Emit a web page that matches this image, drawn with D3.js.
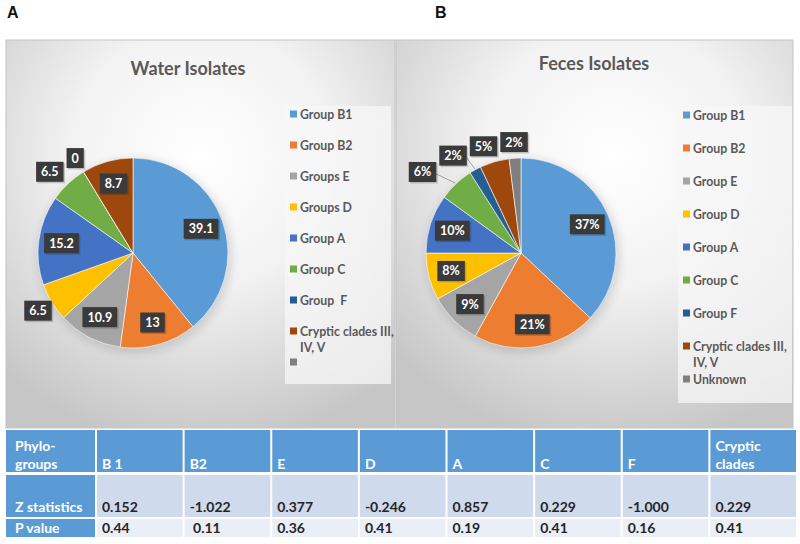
<!DOCTYPE html>
<html><head><meta charset="utf-8">
<script src="https://cdn.jsdelivr.net/npm/d3@7"></script>
<style>
html,body{margin:0;padding:0;background:#fff;}
svg{display:block;font-family:Lato,"Open Sans",sans-serif;}
</style></head>
<body><svg id="c" width="800" height="544"></svg>
<script>
// ---- data ----
const waterCategories = ["Group B1","Group B2","Groups E","Groups D","Group A","Group C","Group  F","Cryptic clades III,\nIV, V",""];
const waterValues = [39.1, 13, 10.9, 6.5, 15.2, 6.5, 0, 8.7];
const fecesCategories = ["Group B1","Group B2","Group E","Group D","Group A","Group C","Group F","Cryptic clades III,\nIV, V","Unknown"];
const fecesValues = [37, 21, 9, 8, 10, 6, 2, 5, 2];
const sliceColors = ["#5B9BD5","#ED7D31","#A5A5A5","#FFC000","#4472C4","#70AD47","#255E91","#9E480E","#7F7F7F"];

const tableGroups = ["B 1","B2","E","D","A","C","F","Cryptic\nclades"];
const zStatistics = ["0.152","-1.022","0.377","-0.246","0.857","0.229","-1.000","0.229"];
const pValues = ["0.44"," 0.11","0.36","0.41","0.19","0.41","0.16","0.41"];

const svg = d3.select("#c");
const defs = svg.append("defs");

function grad(id, cx, cy){
  const g = defs.append("radialGradient").attr("id", id)
    .attr("cx", cx).attr("cy", cy).attr("r", "75%");
  g.append("stop").attr("offset","0%").attr("stop-color","#ffffff");
  g.append("stop").attr("offset","45%").attr("stop-color","#f2f2f2");
  g.append("stop").attr("offset","100%").attr("stop-color","#c6c6c6");
}
grad("gA","50%","30%");
grad("gB","55%","30%");
const blur = defs.append("filter").attr("id","halo").attr("x","-30%").attr("y","-30%").attr("width","160%").attr("height","160%");
blur.append("feGaussianBlur").attr("stdDeviation", 5);

// panel letters
svg.append("text").attr("x",7).attr("y",18).attr("font-family","Liberation Sans, Arial, sans-serif")
  .attr("font-weight","bold").attr("font-size",16).attr("fill","#111").text("A");
svg.append("text").attr("x",435).attr("y",18).attr("font-family","Liberation Sans, Arial, sans-serif")
  .attr("font-weight","bold").attr("font-size",16).attr("fill","#111").text("B");

function panel(cfg){
  const g = svg.append("g");
  g.append("rect").attr("x",cfg.x).attr("y",40).attr("width",cfg.w).attr("height",388)
    .attr("fill",`url(#${cfg.grad})`).attr("stroke","#c4c4c4").attr("stroke-width",1);
  g.append("text").attr("x",cfg.titleX).attr("y",cfg.titleY).attr("text-anchor","middle")
    .attr("font-weight","bold").attr("font-size",18).attr("fill","#595959").text(cfg.title);

  // legend
  const lg = g.append("g");
  lg.append("rect").attr("x",cfg.legX).attr("y",106).attr("width",cfg.legW).attr("height",cfg.legH)
    .attr("fill","#f7f7f7").attr("opacity",0.75);
  cfg.categories.forEach((c,i)=>{
    const y = cfg.legY0 + i*cfg.legStep;
    lg.append("rect").attr("x",cfg.legX+5).attr("y",y-3.5).attr("width",7).attr("height",7).attr("fill",sliceColors[i]);
    const lines = c.split("\n");
    lines.forEach((ln,j)=>{
      lg.append("text").attr("x",cfg.legX+15).attr("y",y+4.5+j*16)
        .attr("font-weight","bold").attr("font-size",12.3).attr("fill","#595959")
        .attr("xml:space","preserve").style("white-space","pre").text(ln);
    });
  });

  // pie
  const R = 95;
  const pg = g.append("g").attr("transform",`translate(${cfg.cx},${cfg.cy})`);
  pg.append("circle").attr("r",R+2).attr("cx",2).attr("cy",3).attr("fill","#000").attr("opacity",0.12).attr("filter","url(#halo)");
  const arcs = d3.pie().sort(null).value(d=>d)(cfg.values);
  const arc = d3.arc().innerRadius(0).outerRadius(R);
  pg.selectAll("path.s").data(arcs).join("path").attr("class","s")
    .attr("d",arc).attr("fill",(d,i)=>sliceColors[i]).attr("stroke","#fff").attr("stroke-width",0.6);

  // labels
  const labs = arcs.map((d,i)=>{
    const a = (d.startAngle+d.endAngle)/2;
    const inside = d.value >= 7;
    const rr = inside ? R*0.76 : R*1.17;
    return {i, a, inside, x: rr*Math.sin(a), y: -rr*Math.cos(a), text: cfg.fmt(d.value)};
  });
  const lgG = pg.append("g");
  labs.forEach(l=>{
    const t = lgG.append("text").attr("font-weight","bold").attr("font-size",12.5).attr("fill","#fff")
      .attr("text-anchor","middle").text(l.text);
    l.node = t; l.w = t.node().getComputedTextLength() + 10; l.h = 20; l.x0 = l.x;
  });
  // simple collision avoidance for outside labels
  const outs = labs.filter(l=>!l.inside).sort((a,b)=>b.a-a.a);
  let prev = null;
  outs.forEach(l=>{
    if(prev){
      const ov = Math.abs(l.y-prev.y) < (l.h+prev.h)/2 && (l.x + l.w/2) > (prev.x - prev.w/2 - 3) && (l.x - l.w/2) < (prev.x + prev.w/2);
      if(ov){ l.x = prev.x - prev.w/2 - 3 - l.w/2; }
    }
    prev = l;
  });
  labs.forEach(l=>{
    if(!l.inside && (l.x0 - l.x) > 12){
      lgG.insert("line",":first-child").attr("x1",l.x + l.w/2).attr("y1",l.y+2)
        .attr("x2",(R+1)*Math.sin(l.a)).attr("y2",-(R+1)*Math.cos(l.a))
        .attr("stroke","#8c8c8c").attr("stroke-width",0.8);
    }
    lgG.insert("rect","text").attr("x",l.x-l.w/2+1.5).attr("y",l.y-l.h/2+1.5).attr("width",l.w).attr("height",l.h)
      .attr("fill","#000").attr("opacity",0.18);
    lgG.insert("rect","text").attr("x",l.x-l.w/2).attr("y",l.y-l.h/2).attr("width",l.w).attr("height",l.h)
      .attr("fill","#3a3a3a");
    l.node.attr("x",l.x).attr("y",l.y+4.5);
  });
}

panel({x:6,w:389,grad:"gA",title:"Water Isolates",titleX:188,titleY:75,
  legX:285,legW:106,legH:278,legY0:114,legStep:31,categories:waterCategories,
  cx:133,cy:253,values:waterValues,fmt:v=>String(v)});
panel({x:396,w:397,grad:"gB",title:"Feces Isolates",titleX:594,titleY:70,
  legX:678,legW:114,legH:297,legY0:115,legStep:33,categories:fecesCategories,
  cx:521,cy:253,values:fecesValues,fmt:v=>v+"%"});

// ---- table ----
const tg = svg.append("g");
const xb = d3.scaleBand().domain(tableGroups).range([95,794]).paddingInner(0.023);
const rows = [{y:430,h:42},{y:475,h:42},{y:519,h:18}];
const firstW = 89, firstX = 6;
const blue = "#5B9BD5";
const rowFill = [blue,"#CFDAEC","#E9EEF7"];
const rowLab = [["Phylo-","groups"],["Z statistics"],["P value"]];
const fs = 14;
rows.forEach((r,ri)=>{
  tg.append("rect").attr("x",firstX).attr("y",r.y).attr("width",firstW).attr("height",r.h).attr("fill",blue);
  tableGroups.forEach(gn=>{
    tg.append("rect").attr("x",xb(gn)+2).attr("y",r.y).attr("width",xb.bandwidth()).attr("height",r.h).attr("fill",rowFill[ri]);
  });
  const lines = rowLab[ri];
  const baseY = ri===0 ? 469 : (ri===1 ? 512 : 533);
  lines.forEach((ln,j)=>{
    tg.append("text").attr("x",15).attr("y",baseY-(lines.length-1-j)*18)
      .attr("font-weight","bold").attr("font-size",fs).attr("fill","#fff").text(ln);
  });
});
tableGroups.forEach((gn,i)=>{
  const lines = gn.split("\n");
  lines.forEach((ln,j)=>{
    tg.append("text").attr("x",xb(gn)+7).attr("y",469-(lines.length-1-j)*18)
      .attr("font-weight","bold").attr("font-size",fs).attr("fill","#fff").text(ln);
  });
  tg.append("text").attr("x",xb(gn)+7).attr("y",512).attr("font-weight","bold").attr("font-size",fs)
    .attr("fill","#262626").attr("xml:space","preserve").style("white-space","pre").text(zStatistics[i]);
  tg.append("text").attr("x",xb(gn)+7).attr("y",533).attr("font-weight","bold").attr("font-size",fs)
    .attr("fill","#262626").attr("xml:space","preserve").style("white-space","pre").text(pValues[i]);
});
</script></body></html>
